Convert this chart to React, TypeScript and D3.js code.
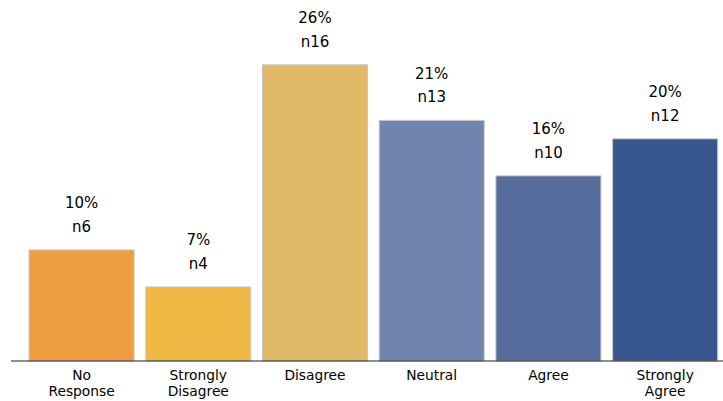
import React from "react";
import * as d3 from "d3";

const categories = ["No Response", "Strongly Disagree", "Disagree", "Neutral", "Agree", "Strongly Agree"];
const labelLines = [["No", "Response"], ["Strongly", "Disagree"], ["Disagree"], ["Neutral"], ["Agree"], ["Strongly", "Agree"]];
const counts = [6, 4, 16, 13, 10, 12];
const percents = ["10%", "7%", "26%", "21%", "16%", "20%"];
const colors = ["#ED9E40", "#F0B845", "#E0B866", "#7084AD", "#556C9C", "#38578F"];

const W = 723;
const H = 401;
const baseY = 361;

export default function App() {
  const x = d3.scaleBand<string>().domain(categories).range([23.2, 723.5]).paddingInner(0.1).paddingOuter(0.05);
  const y = d3.scaleLinear().domain([0, 16]).range([baseY, 64.8]);
  const font = "DejaVu Sans, sans-serif";
  return (
    <svg width={W} height={H} style={{ position: "absolute", left: 0, top: 0, background: "#fff" }}>
      {categories.map((c, i) => {
        const x0 = x(c)!;
        const top = y(counts[i]);
        const cx = x0 + x.bandwidth() / 2;
        return (
          <g key={c}>
            <rect x={x0} y={top} width={x.bandwidth()} height={baseY - top} fill={colors[i]} stroke="#c8c8c8" strokeWidth={1} />
            <text x={cx} y={top - 46.5} textAnchor="middle" dominantBaseline="central" fontFamily={font} fontSize={15} fill="#000">{percents[i]}</text>
            <text x={cx} y={top - 23} textAnchor="middle" dominantBaseline="central" fontFamily={font} fontSize={15} fill="#000">{"n" + counts[i]}</text>
            {labelLines[i].map((l, j) => (
              <text key={j} x={cx} y={375 + j * 15.7} textAnchor="middle" dominantBaseline="central" fontFamily={font} fontSize={13.8} fill="#000">{l}</text>
            ))}
          </g>
        );
      })}
      <line x1={11} x2={723} y1={baseY} y2={baseY} stroke="#222" strokeWidth={1.2} />
    </svg>
  );
}
